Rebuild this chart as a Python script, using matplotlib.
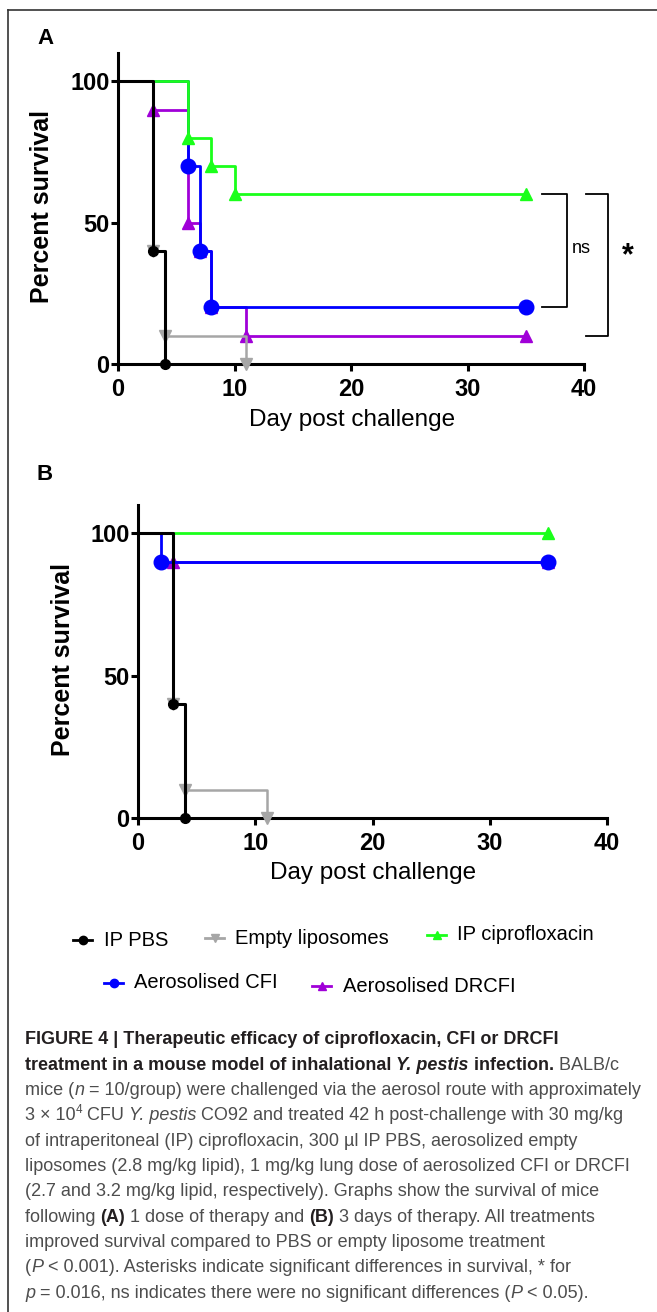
import matplotlib
matplotlib.use('Agg')
import matplotlib.pyplot as plt
from matplotlib.lines import Line2D

plt.rcParams['font.family'] = ['Liberation Sans Narrow', 'Liberation Sans', 'DejaVu Sans']

W, H = 657, 1312

# Kaplan-Meier steps, panel A (1 dose)
pbs_t_A = [0, 3, 4]
pbs_s_A = [100, 40, 0]
empty_t_A = [0, 3, 4, 11]
empty_s_A = [100, 40, 10, 0]
cipro_t_A = [0, 6, 8, 10, 35]
cipro_s_A = [100, 80, 70, 60, 60]
cfi_t_A = [0, 6, 7, 8, 35]
cfi_s_A = [100, 70, 40, 20, 20]
drcfi_t_A = [0, 3, 6, 7, 8, 11, 35]
drcfi_s_A = [100, 90, 50, 40, 20, 10, 10]

# panel B (3 days)
pbs_t_B = [0, 3, 4]
pbs_s_B = [100, 40, 0]
empty_t_B = [0, 3, 4, 11]
empty_s_B = [100, 40, 10, 0]
cipro_t_B = [0, 35]
cipro_s_B = [100, 100]
cfi_t_B = [0, 2, 35]
cfi_s_B = [100, 90, 90]
drcfi_t_B = [0, 3, 35]
drcfi_s_B = [100, 90, 90]

labels = ['IP PBS', 'Empty liposomes', 'IP ciprofloxacin', 'Aerosolised CFI', 'Aerosolised DRCFI']
colors = ['#000000', '#a6a6a6', '#1aff1a', '#0000ff', '#a000d8']
markers = ['o', 'v', '^', 'o', '^']
msizes = [7, 8, 9, 10.5, 9]
lws = [2.2, 1.8, 2.0, 2.0, 2.0]
zord = [6, 5, 4, 3, 2]

fig = plt.figure(figsize=(W / 100, H / 100), dpi=100)


def px_axes(x0, y_top, x1, y_bot):
    return fig.add_axes([x0 / W, 1 - y_bot / H, (x1 - x0) / W, (y_bot - y_top) / H])


def km(ax, t, s, i):
    ax.step(t, s, where='post', color=colors[i], lw=lws[i], zorder=zord[i], clip_on=False)
    ax.plot(t[1:], s[1:], ls='none', marker=markers[i], ms=msizes[i], color=colors[i],
            mec=colors[i], zorder=zord[i], clip_on=False)


def style(ax):
    for sp in ['top', 'right']:
        ax.spines[sp].set_visible(False)
    for sp in ['left', 'bottom']:
        ax.spines[sp].set_linewidth(2.2)
    ax.set_xlim(0, 40)
    ax.set_ylim(0, 110)
    ax.set_xticks([0, 10, 20, 30, 40])
    ax.set_yticks([0, 50, 100])
    ax.tick_params(axis='x', width=2.2, length=5, pad=5, labelsize=17)
    ax.tick_params(axis='y', width=2.2, length=5, pad=1, labelsize=17)
    plt.setp(ax.get_xticklabels() + ax.get_yticklabels(), fontweight='bold')
    ax.set_xlabel('Day post challenge', fontsize=17.5)
    ax.set_ylabel('Percent survival', fontsize=18, fontweight='bold')


axA = px_axes(118, 53, 584, 364)
seriesA = [(pbs_t_A, pbs_s_A), (empty_t_A, empty_s_A), (cipro_t_A, cipro_s_A),
           (cfi_t_A, cfi_s_A), (drcfi_t_A, drcfi_s_A)]
for i, (t, s) in enumerate(seriesA):
    km(axA, t, s, i)
style(axA)
axA.yaxis.set_label_coords(-0.137, 0.505)
axA.xaxis.set_label_coords(0.502, -0.145)

# significance brackets
axA.plot([36.4, 38.5, 38.5, 36.4], [60, 60, 20, 20], color='k', lw=1.3, clip_on=False)
axA.plot([40.2, 42.1, 42.1, 40.2], [60, 60, 10, 10], color='k', lw=1.3, clip_on=False)
axA.text(39.8, 41, 'ns', ha='center', va='center', fontsize=13)
axA.text(43.8, 38, '*', ha='center', va='center', fontsize=22, fontweight='bold')

axB = px_axes(138, 505, 607, 818)
seriesB = [(pbs_t_B, pbs_s_B), (empty_t_B, empty_s_B), (cipro_t_B, cipro_s_B),
           (cfi_t_B, cfi_s_B), (drcfi_t_B, drcfi_s_B)]
for i, (t, s) in enumerate(seriesB):
    km(axB, t, s, i)
style(axB)
axB.yaxis.set_label_coords(-0.134, 0.505)
axB.xaxis.set_label_coords(0.501, -0.142)

fig.text(45 / W, 1 - 38 / H, 'A', fontsize=16, fontweight='bold', ha='center', va='center')
fig.text(45 / W, 1 - 475 / H, 'B', fontsize=16, fontweight='bold', ha='center', va='center')

# frame
fig.add_artist(Line2D([8 / W, 1], [1 - 10 / H, 1 - 10 / H], color='#333333', lw=1.2))
fig.add_artist(Line2D([8 / W, 8 / W], [0, 1 - 10 / H], color='#333333', lw=1.2))

# legend, placed by hand
leg_pos = [(73, 940, 104), (205, 938, 235), (427, 935, 457), (104, 983, 134), (312, 986, 343)]
for i, (lx, ly, tx) in enumerate(leg_pos):
    yf = 1 - ly / H
    fig.add_artist(Line2D([lx / W, (lx + 19) / W], [yf, yf], color=colors[i], lw=2))
    fig.add_artist(Line2D([(lx + 9.5) / W], [yf], color=colors[i], marker=markers[i], ms=6, ls='none'))
    fig.text(tx / W, yf, labels[i], fontsize=14.5, ha='left', va='center')

# caption
B_ = dict(fontweight='bold', color='#231f20')
BI = dict(fontweight='bold', fontstyle='italic', color='#231f20')
N_ = dict(color='#4d4d4d')
I_ = dict(fontstyle='italic', color='#4d4d4d')
SUP = dict(color='#4d4d4d', sup=True)

caption = [
    [("FIGURE 4 | Therapeutic efficacy of ciprofloxacin, CFI or DRCFI", B_)],
    [("treatment in a mouse model of inhalational ", B_), ("Y. pestis", BI), (" infection.", B_),
     (" BALB/c", N_)],
    [("mice (", N_), ("n", I_), (" = 10/group) were challenged via the aerosol route with approximately", N_)],
    [("3 × 10", N_), ("4", SUP), (" CFU ", N_), ("Y. pestis", I_),
     (" CO92 and treated 42 h post-challenge with 30 mg/kg", N_)],
    [("of intraperitoneal (IP) ciprofloxacin, 300 µl IP PBS, aerosolized empty", N_)],
    [("liposomes (2.8 mg/kg lipid), 1 mg/kg lung dose of aerosolized CFI or DRCFI", N_)],
    [("(2.7 and 3.2 mg/kg lipid, respectively). Graphs show the survival of mice", N_)],
    [("following ", N_), ("(A)", B_), (" 1 dose of therapy and ", N_), ("(B)", B_),
     (" 3 days of therapy. All treatments", N_)],
    [("improved survival compared to PBS or empty liposome treatment", N_)],
    [("(", N_), ("P", I_), (" < 0.001). Asterisks indicate significant differences in survival, * for", N_)],
    [("p", I_), (" = 0.016, ns indicates there were no significant differences (", N_), ("P", I_),
     (" < 0.05).", N_)],
]

renderer = fig.canvas.get_renderer()


def seg_width(text, size, props):
    p = {k: v for k, v in props.items() if k != 'sup'}
    t1 = fig.text(0, 0, 'x' + text + 'x', fontsize=size, **p)
    t2 = fig.text(0, 0, 'xx', fontsize=size, **p)
    w = t1.get_window_extent(renderer).width - t2.get_window_extent(renderer).width
    t1.remove()
    t2.remove()
    return w


def line_width(segs, size):
    return sum(seg_width(t, size * (0.65 if 'sup' in p else 1), p) for t, p in segs)


cap_size = 12 * 618 / line_width(caption[2], 12)
cap_size = min(cap_size, 13.5)

for li, segs in enumerate(caption):
    y = 1040 + li * 25.3
    x = 25.0
    for text, props in segs:
        size = cap_size
        dy = 0
        p = dict(props)
        if p.pop('sup', False):
            size = cap_size * 0.65
            dy = -6
        fig.text(x / W, 1 - (y + dy) / H, text, fontsize=size, ha='left', va='center', **p)
        x += seg_width(text, size, props)

fig.savefig('out.png', dpi=100)
